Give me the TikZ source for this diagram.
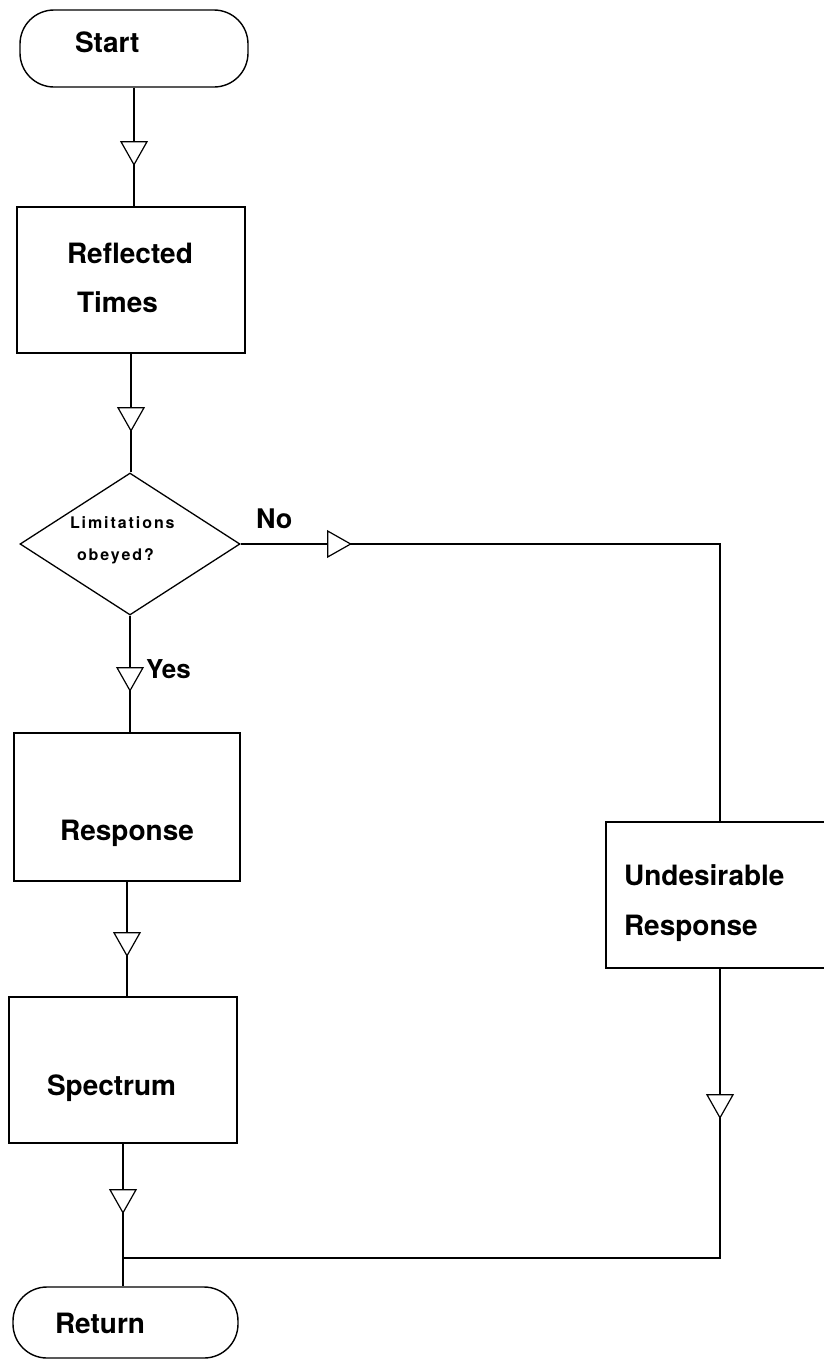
\documentclass[tikz,border=0pt]{standalone}
\usepackage{fontspec}
\setmainfont{TeX Gyre Heros}
\newfontfamily\spacedfont{TeX Gyre Heros}[LetterSpace=12]
\usetikzlibrary{shapes.geometric,decorations.markings}
\newcommand\lft[2]{\hbox to #1{#2\hfil}}
\newcommand\twol[4]{\vtop{\baselineskip=#2\lineskiplimit=-\maxdimen\hbox to #1{#3\hfil}\hbox to #1{#4\hfil}}}
\begin{document}
\begin{tikzpicture}[x=1pt,y=1pt,
  every node/.style={font=\fontsize{28}{32}\selectfont\bfseries},
  boxnode/.style={draw,line width=1.5pt,rectangle,inner sep=0pt,minimum width=228pt,minimum height=146pt},
  termnode/.style={draw,line width=1.4pt,rectangle,rounded corners=34pt,inner sep=0pt},
  decnode/.style={draw,line width=1.3pt,diamond,aspect=1.55,inner sep=0pt,minimum width=220pt,minimum height=142pt,
    font=\fontsize{16}{18}\selectfont\bfseries\spacedfont},
  lbl/.style={inner sep=0pt,anchor=base west},
  conn/.style={line width=1.3pt},
  tripos/.style={postaction={decorate,decoration={markings,
    mark=at position #1 with {\draw[fill=white,line width=1.2pt,line join=miter] (-23pt,13pt)--(0pt,0pt)--(-23pt,-13pt)--cycle;}}}}
]
\useasboundingbox (0,0) rectangle (823,-1361);

\node[termnode,minimum width=228pt,minimum height=77pt,text height=7pt,text depth=0pt] (start) at (134,-48.5) {\lft{118pt}{Start}};
\node[boxnode,text height=0pt,text depth=34pt] (refl) at (131,-280) {\twol{128pt}{49pt}{Reflected}{\hspace{10pt}Times}};
\node[decnode,text height=0pt,text depth=32pt] (dia) at (130,-544) {\twol{120pt}{32pt}{Limitations}{\hspace{7pt}obeyed?}};
\node[boxnode,minimum width=226pt,minimum height=148pt,text height=66pt,text depth=0pt] (resp) at (127,-807) {Response};
\node[boxnode,text height=50pt,text depth=0pt] (spec) at (123,-1070) {\lft{152pt}{Spectrum}};
\node[termnode,minimum width=225pt,minimum height=71pt,text height=21pt,text depth=0pt] (ret) at (125.5,-1322.5) {\lft{141pt}{Return}};
\node[boxnode,text height=0pt,text depth=20pt] (undes) at (720,-895) {\twol{192pt}{50pt}{Undesirable}{Response}};

\node[lbl,font=\fontsize{27}{30}\selectfont\bfseries] (no) at (256,-528) {No};
\node[lbl,font=\fontsize{26}{30}\selectfont\bfseries] (yes) at (146,-678) {Yes};

\coordinate (merge) at (123,-1258);

\draw[conn,tripos=77pt] (start.south) -- (start.south |- refl.north);
\draw[conn,tripos=77pt] (refl.south) -- (refl.south |- dia.north);
\draw[conn,tripos=75pt] (dia.south) -- (dia.south |- resp.north);
\draw[conn,tripos=74pt] (resp.south) -- (resp.south |- spec.north);
\draw[conn,tripos=69pt] (spec.south) -- (spec.south |- ret.north);
\draw[conn,tripos=110pt] (dia.east) -- (dia.east -| undes.north) -- (undes.north);
\draw[conn,tripos=149pt] (undes.south) -- (undes.south |- merge) -- (merge);
\end{tikzpicture}
\end{document}
